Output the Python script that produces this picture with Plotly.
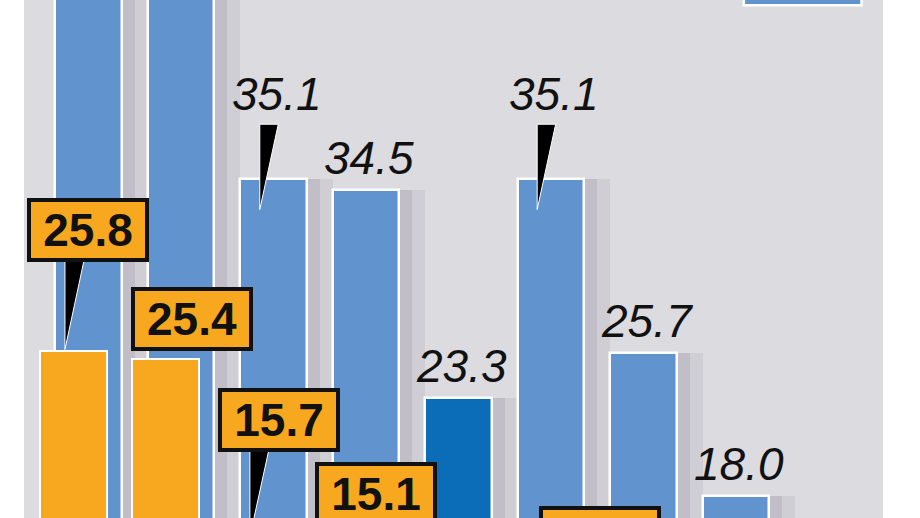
import plotly.graph_objects as go

# values (the chart is cropped, so some values are guesses)
groups = [0, 1, 2, 3, 4, 5, 6, 7]
blue_values = [52.0, 50.5, 35.1, 34.5, 23.3, 35.1, 25.7, 18.0]
orange_values = [25.8, 25.4, 15.7, 15.1, None, 12.0, None, None]
blue_labels = ["52.0", "50.5", "35.1", "34.5", "23.3", "35.1", "25.7", "18.0"]
orange_labels = ["25.8", "25.4", "15.7", "15.1", None, "12.0", None, None]

# styling per group
blue_colors = ["#6194cf"] * 8
blue_colors[4] = "#0b6cb7"
blue_pointer = [False, False, True, False, False, True, False, False]
orange_pointer = [True, False, True, False, False, False, False, False]
orange_box_gap = [89, 8, 87, 24, 0, 37, 0, 0]
orange_box_shift = [15, 26, 21, 25, 0, 64, 0, 0]

BLUE_OFF = -0.36
ORANGE_OFF = -0.527
BAR_W = 0.72
PX = 18.54  # pixels per unit on the y axis
BOX_H = 64
Y_RANGE = [16.81, 44.75]

fig = go.Figure()

# soft shadows to the right of the blue bars
for extra, alpha in [(0.28, 0.10), (0.14, 0.15)]:
    fig.add_trace(go.Bar(
        x=groups, y=blue_values,
        offset=BLUE_OFF, width=BAR_W + extra,
        marker=dict(color=f"rgba(105,100,118,{alpha})", line=dict(width=0)),
        hoverinfo="skip", showlegend=False,
    ))

fig.add_trace(go.Bar(
    x=groups, y=blue_values, offset=BLUE_OFF, width=BAR_W,
    marker=dict(color=blue_colors, line=dict(color="white", width=2.5)),
    showlegend=False,
))
fig.add_trace(go.Bar(
    x=groups, y=orange_values, offset=ORANGE_OFF, width=BAR_W,
    marker=dict(color="#f7a81e", line=dict(color="white", width=2)),
    showlegend=False,
))

italic = dict(family="Liberation Sans, Arial", size=46, color="#111111", style="italic")
bold = dict(family="Liberation Sans, Arial", size=46, color="#111111", weight="bold")

# italic value labels above the blue bars (only those inside the crop)
for i, v in enumerate(blue_values):
    if v > Y_RANGE[1]:
        continue
    fig.add_annotation(
        x=i, y=v, text=blue_labels[i], showarrow=False,
        xanchor="center", yanchor="bottom", xshift=3,
        yshift=57 if blue_pointer[i] else 4, font=italic,
    )
    if blue_pointer[i]:
        tip = i - 0.15
        fig.add_shape(
            type="path", layer="above",
            path=f"M {tip:.3f},{v + 2.95:.3f} L {tip + 0.2:.3f},{v + 2.95:.3f} L {tip:.3f},{v - 1.65:.3f} Z",
            fillcolor="black", line=dict(color="white", width=1),
        )

# orange callout boxes, anchored at their top edge so they stay drawn
for i, v in enumerate(orange_values):
    if v is None:
        continue
    c = i + ORANGE_OFF + BAR_W / 2
    gap = orange_box_gap[i]
    if orange_pointer[i]:
        tip = c - 0.09
        top = v + gap / PX + 0.2
        fig.add_shape(
            type="path", layer="above",
            path=f"M {tip:.3f},{top:.3f} L {tip + 0.21:.3f},{top:.3f} L {tip:.3f},{v + 0.1:.3f} Z",
            fillcolor="black", line=dict(color="white", width=1),
        )
    fig.add_annotation(
        x=c, y=v + (gap + BOX_H) / PX, text=orange_labels[i], showarrow=False,
        xanchor="center", yanchor="top",
        xshift=orange_box_shift[i],
        width=112, height=54, align="center", valign="middle",
        bgcolor="#f7a81e", bordercolor="#111111", borderwidth=4, borderpad=1,
        font=bold,
    )

# legend swatch peeking in at the top right
fig.add_shape(
    type="rect", xref="paper", yref="paper",
    x0=0.838, x1=0.975, y0=0.99, y1=1.02,
    fillcolor="#6194cf", line=dict(color="white", width=2.5),
)

fig.update_layout(
    width=920, height=518,
    margin=dict(l=24, r=37, t=0, b=0, autoexpand=False),
    paper_bgcolor="white", plot_bgcolor="#dcdbe0",
    barmode="overlay", bargap=0,
    xaxis=dict(range=[-0.70, 8.59], visible=False, fixedrange=True),
    yaxis=dict(range=Y_RANGE, visible=False, fixedrange=True),
)

# drop the page's default body margin so the figure sits at the window corner
fig.write_html(
    "out.html",
    config={"displayModeBar": False},
    post_script="document.body.style.margin = '0px';",
)
